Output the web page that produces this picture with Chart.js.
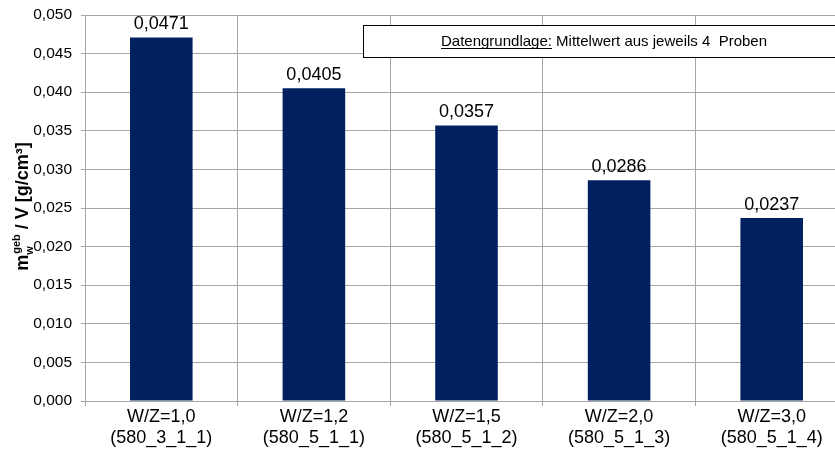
<!DOCTYPE html>
<html>
<head>
<meta charset="utf-8">
<script src="https://cdn.jsdelivr.net/npm/chart.js@4.4.0/dist/chart.umd.min.js"></script>
<style>
    html, body { margin: 0; padding: 0; background: #fff; overflow: hidden; }
    #wrap { width: 850px; height: 457px; position: relative; }
</style>
</head>
<body>
<div id="wrap"><canvas id="barChart"></canvas></div>
<script>
// Chart data
const categories = [
    ['W/Z=1,0', '(580_3_1_1)'],
    ['W/Z=1,2', '(580_5_1_1)'],
    ['W/Z=1,5', '(580_5_1_2)'],
    ['W/Z=2,0', '(580_5_1_3)'],
    ['W/Z=3,0', '(580_5_1_4)']
];
const values = [0.0471, 0.0405, 0.0357, 0.0286, 0.0237];
const yMin = 0;
const yMax = 0.05;
const yStep = 0.005;

const FONT = "Arial, 'Liberation Sans', sans-serif";
const GRID = '#a6a6a6';

function fmt(v, digits) {
    return v.toFixed(digits).replace('.', ',');
}

// value labels above bars
const valueLabels = {
    id: 'valueLabels',
    afterDatasetsDraw(chart) {
        const ctx = chart.ctx;
        const meta = chart.getDatasetMeta(0);
        ctx.save();
        ctx.font = '18px ' + FONT;
        ctx.fillStyle = '#000';
        ctx.textAlign = 'center';
        ctx.textBaseline = 'alphabetic';
        meta.data.forEach((bar, i) => {
            ctx.fillText(fmt(values[i], 4), bar.x, bar.y - 8);
        });
        ctx.restore();
    }
};

// note box + y axis title with sub/superscript
const extras = {
    id: 'extras',
    afterDraw(chart) {
        const ctx = chart.ctx;
        ctx.save();

        // note box
        ctx.fillStyle = '#fff';
        ctx.fillRect(363, 25, 480, 32);
        ctx.strokeStyle = '#000';
        ctx.lineWidth = 1;
        ctx.strokeRect(363.5, 25.5, 480, 32);
        ctx.font = '15px ' + FONT;
        ctx.fillStyle = '#000';
        ctx.textBaseline = 'alphabetic';
        ctx.textAlign = 'left';
        const a = 'Datengrundlage:';
        const b = ' Mittelwert aus jeweils 4  Proben';
        const wa = ctx.measureText(a).width;
        const wb = ctx.measureText(b).width;
        let x0 = 604 - (wa + wb) / 2;
        ctx.fillText(a, x0, 46);
        ctx.fillRect(x0, 48, wa, 1);
        ctx.fillText(b, x0 + wa, 46);

        // y axis title, rotated
        ctx.translate(28, 207);
        ctx.rotate(-Math.PI / 2);
        const parts = [
            { t: 'm', size: 18, dy: 0 },
            { t: 'w', size: 11, dy: 5 },
            { t: 'geb', size: 11, dy: -8, back: true },
            { t: ' / V [g/cm³]', size: 18, dy: 0 }
        ];
        parts.forEach(p => {
            ctx.font = 'bold ' + p.size + 'px ' + FONT;
            p.w = ctx.measureText(p.t).width;
        });
        const total = parts[0].w + parts[1].w + parts[3].w + Math.max(0, parts[2].w - parts[1].w);
        let x = -total / 2;
        parts.forEach(p => {
            ctx.font = 'bold ' + p.size + 'px ' + FONT;
            if (p.back) {
                x -= parts[1].w - 1;
            }
            ctx.fillText(p.t, x, p.dy);
            x += p.w;
        });
        ctx.restore();
    }
};

new Chart(document.getElementById('barChart'), {
    type: 'bar',
    data: {
        labels: categories,
        datasets: [{
            data: values,
            backgroundColor: '#002060',
            barPercentage: 0.41,
            categoryPercentage: 1.0
        }]
    },
    options: {
        responsive: true,
        maintainAspectRatio: false,
        animation: false,
        layout: { padding: { top: 15, right: 2, left: 0, bottom: 0 } },
        plugins: {
            legend: { display: false },
            tooltip: { enabled: false }
        },
        scales: {
            x: {
                grid: {
                    offset: true,
                    color: GRID,
                    tickLength: 5,
                    drawTicks: true
                },
                border: { color: GRID },
                ticks: {
                    color: '#000',
                    font: { family: FONT, size: 18 },
                    padding: 0,
                    maxRotation: 0
                },
                afterFit(scale) { scale.height = 56; }
            },
            y: {
                min: yMin,
                max: yMax,
                grid: {
                    color: GRID,
                    tickLength: 4
                },
                border: { color: GRID },
                ticks: {
                    stepSize: yStep,
                    color: '#000',
                    font: { family: FONT, size: 15.5 },
                    padding: 9,
                    callback: v => fmt(v, 3)
                },
                afterFit(scale) {
                    scale.width = 85;
                    scale.paddingTop = 0;
                    scale.paddingBottom = 0;
                }
            }
        }
    },
    plugins: [valueLabels, extras]
});
</script>
</body>
</html>
